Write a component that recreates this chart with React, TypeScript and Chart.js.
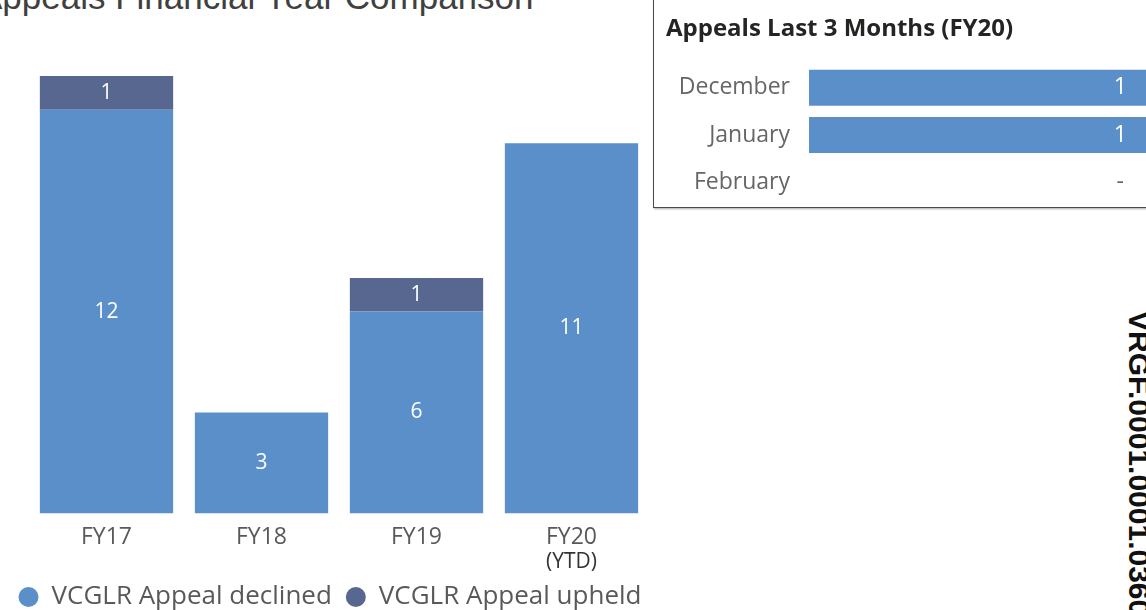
import React, { useEffect, useRef } from "react";
import { Chart, registerables } from "chart.js";
Chart.register(...registerables);

const categories = ["FY17", "FY18", "FY19", "FY20"];
const declinedValues = [12, 3, 6, 11];
const upheldValues = [1, null, 1, null];
const seriesNames = ["VCGLR Appeal declined", "VCGLR Appeal upheld"];
const ytdNote = "(YTD)";
const months = ["December", "January", "February"];
const monthValues = [1, 1, 0];
const mainTitle = "Appeals Financial Year Comparison";
const panelTitle = "Appeals Last 3 Months (FY20)";
const stampText = "VRGF.0001.0001.0360";

const FONT = "'Open Sans', sans-serif";
const DECLINED = "#5B8FC9";
const UPHELD = "#57678F";
const AXIS_GRAY = "#595959";

const stackLabels = {
  id: "stackLabels",
  afterDatasetsDraw(chart: any) {
    const { ctx } = chart;
    ctx.save();
    ctx.font = `21px ${FONT}`;
    ctx.fillStyle = "#ffffff";
    ctx.textAlign = "center";
    ctx.textBaseline = "middle";
    chart.data.datasets.forEach((ds: any, i: number) => {
      const meta = chart.getDatasetMeta(i);
      meta.data.forEach((el: any, j: number) => {
        const v = ds.data[j];
        if (v == null || v === 0) return;
        const p = el.getProps(["x", "y", "base"], true);
        ctx.fillText(String(v), p.x, (p.y + p.base) / 2);
      });
    });
    const xs = chart.scales.x;
    ctx.font = `21px ${FONT}`;
    ctx.fillStyle = "#333333";
    ctx.fillText(ytdNote, xs.getPixelForValue(categories.length - 1), xs.top + 49);
    ctx.restore();
  },
};

const monthLabels = {
  id: "monthLabels",
  afterDatasetsDraw(chart: any) {
    const { ctx } = chart;
    const meta = chart.getDatasetMeta(0);
    ctx.save();
    ctx.textAlign = "right";
    ctx.textBaseline = "middle";
    ctx.font = `23px ${FONT}`;
    meta.data.forEach((el: any, j: number) => {
      const v = monthValues[j];
      const p = el.getProps(["x", "y", "base"], true);
      if (v) {
        ctx.fillStyle = "#ffffff";
        ctx.fillText(String(v), p.x - 19, p.y);
      } else {
        ctx.fillStyle = "#666666";
        ctx.fillText("-", chart.scales.x.getPixelForValue(1) - 22, p.y);
      }
    });
    ctx.restore();
  },
};

export default function App() {
  const mainRef = useRef<HTMLCanvasElement>(null);
  const panelRef = useRef<HTMLCanvasElement>(null);

  useEffect(() => {
    const main = new Chart(mainRef.current as HTMLCanvasElement, {
      type: "bar",
      data: {
        labels: categories,
        datasets: [
          {
            label: seriesNames[0],
            data: declinedValues,
            backgroundColor: DECLINED,
            barPercentage: 1,
            categoryPercentage: 0.86,
          },
          {
            label: seriesNames[1],
            data: upheldValues as any,
            backgroundColor: UPHELD,
            barPercentage: 1,
            categoryPercentage: 0.86,
          },
        ],
      },
      options: {
        responsive: false,
        animation: false,
        layout: { padding: { left: 0, right: 0, top: 76, bottom: 0 } },
        scales: {
          x: {
            stacked: true,
            grid: { display: false, drawTicks: false },
            border: { display: false },
            ticks: { color: AXIS_GRAY, font: { family: FONT, size: 23 }, padding: 10 },
            afterFit: (s: any) => {
              s.height += 9;
            },
          },
          y: {
            stacked: true,
            position: "left",
            min: 0,
            max: 13,
            grid: { display: false, drawTicks: false },
            border: { display: false },
            ticks: { display: false },
            afterFit: (s: any) => {
              s.width = 29;
            },
          },
          yRight: {
            position: "right",
            grid: { display: false, drawTicks: false },
            border: { display: false },
            ticks: { display: false },
            afterFit: (s: any) => {
              s.width = 11;
            },
          },
        },
        plugins: {
          legend: {
            position: "bottom",
            labels: {
              usePointStyle: true,
              pointStyle: "circle",
              boxHeight: 14,
              pointStyleWidth: 20,
              color: AXIS_GRAY,
              font: { family: FONT, size: 26 },
              padding: 14,
            },
          },
          tooltip: { enabled: false },
        },
      },
      plugins: [stackLabels],
    });

    const panel = new Chart(panelRef.current as HTMLCanvasElement, {
      type: "bar",
      data: {
        labels: months,
        datasets: [
          {
            label: "Appeals",
            data: monthValues,
            backgroundColor: DECLINED,
            barPercentage: 0.76,
            categoryPercentage: 1,
          },
        ],
      },
      options: {
        indexAxis: "y",
        responsive: false,
        animation: false,
        layout: { padding: { left: 0, right: 0, top: 64, bottom: 0 } },
        scales: {
          x: { display: false, min: 0, max: 1 },
          y: {
            grid: { display: false, drawTicks: false },
            border: { display: false },
            ticks: { color: "#666666", font: { family: FONT, size: 23 }, padding: 19 },
            afterFit: (s: any) => {
              s.width = 155;
            },
          },
        },
        plugins: { legend: { display: false }, tooltip: { enabled: false } },
      },
      plugins: [monthLabels],
    });

    return () => {
      main.destroy();
      panel.destroy();
    };
  }, []);

  return (
    <div
      style={{
        position: "fixed",
        left: 0,
        top: 0,
        width: 1146,
        height: 610,
        overflow: "hidden",
        background: "#ffffff",
      }}
    >
      <div
        style={{
          position: "absolute",
          left: -21,
          top: -21,
          font: "35px 'Liberation Sans', Arial, sans-serif",
          lineHeight: "35px",
          color: "#404040",
          whiteSpace: "nowrap",
        }}
      >
        {mainTitle}
      </div>
      <canvas
        ref={mainRef}
        width={660}
        height={620}
        style={{ position: "absolute", left: 0, top: 0, width: 660, height: 620 }}
      />
      <div
        style={{
          position: "absolute",
          left: 653,
          top: -3,
          width: 600,
          height: 211,
          border: "1px solid #4a4a4a",
          boxShadow: "1px 1px 2px rgba(0,0,0,0.35)",
          background: "#ffffff",
          boxSizing: "border-box",
        }}
      />
      <div
        style={{
          position: "absolute",
          left: 666,
          top: 12,
          font: `bold 24px ${FONT}`,
          lineHeight: "30px",
          color: "#252423",
          whiteSpace: "nowrap",
        }}
      >
        {panelTitle}
      </div>
      <canvas
        ref={panelRef}
        width={492}
        height={239}
        style={{ position: "absolute", left: 654, top: 0, width: 492, height: 239 }}
      />
      <span
        style={{
          position: "absolute",
          left: 1154,
          top: 311,
          transform: "rotate(90deg)",
          transformOrigin: "0 0",
          font: "bold 30px 'Liberation Sans', Arial, sans-serif",
          lineHeight: "30px",
          color: "#111111",
          whiteSpace: "nowrap",
        }}
      >
        {stampText}
      </span>
    </div>
  );
}
